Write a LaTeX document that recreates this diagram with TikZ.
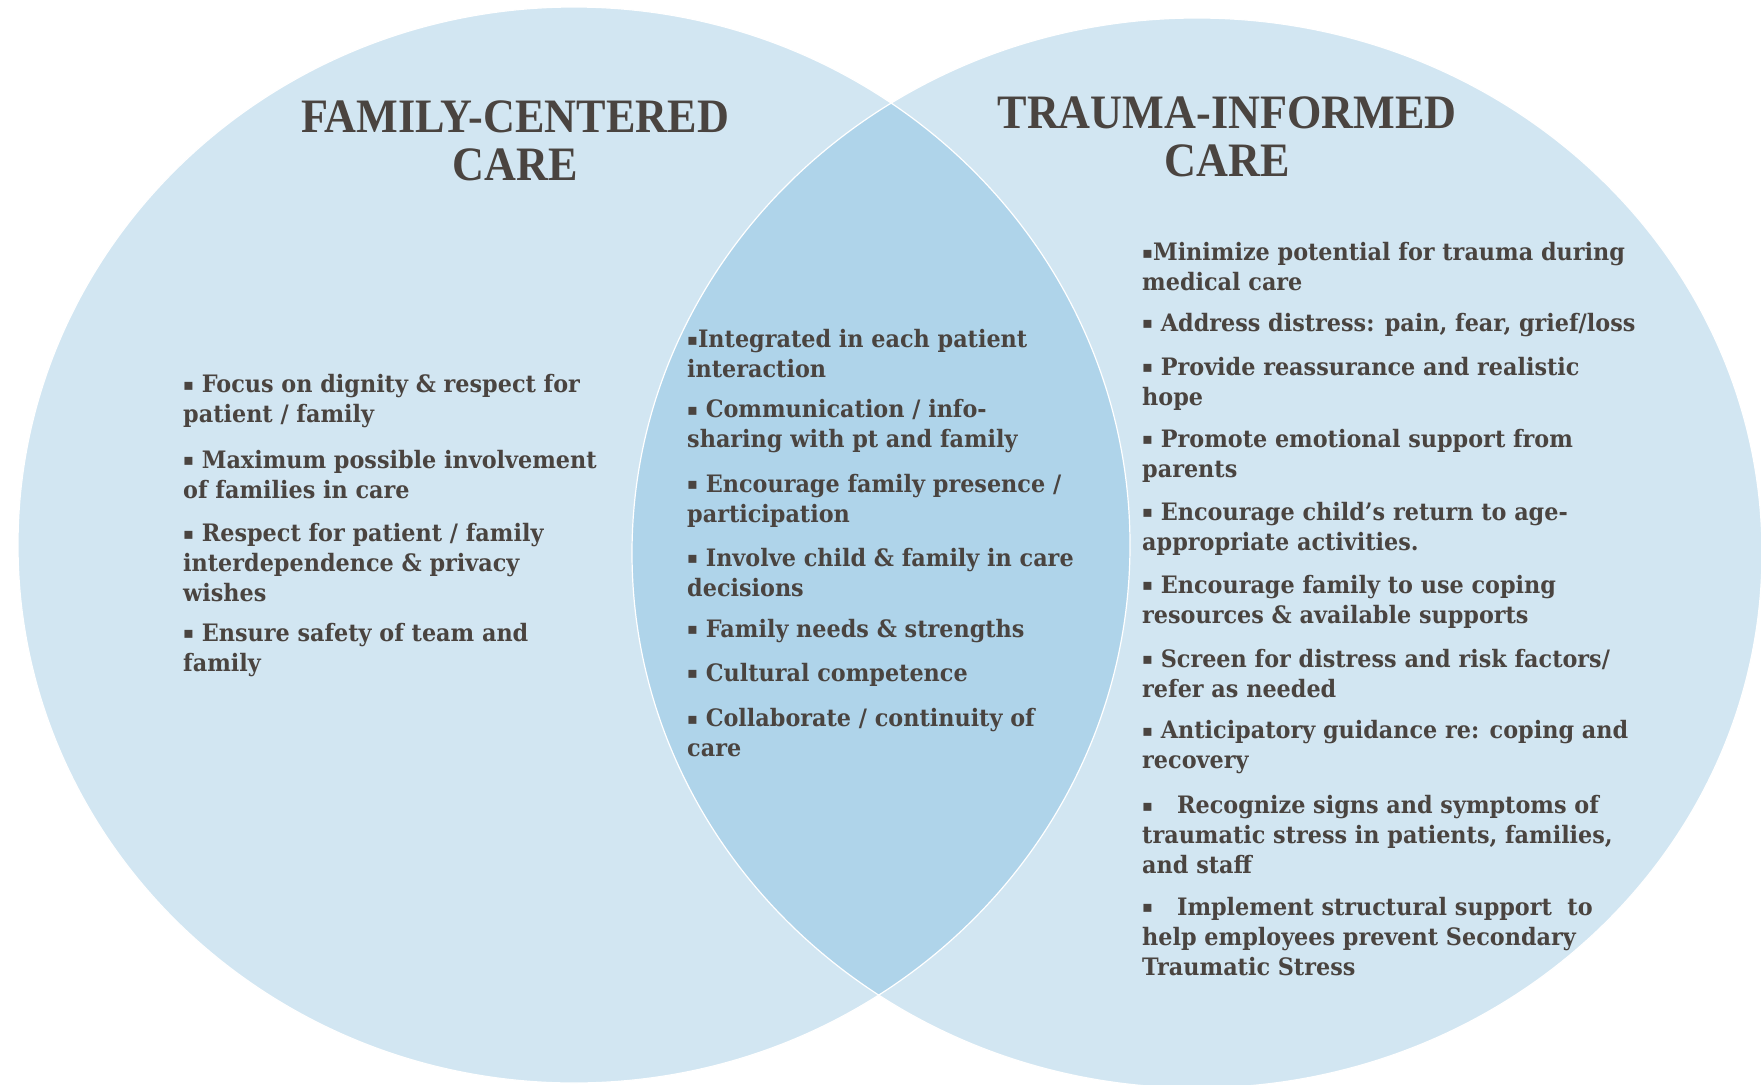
\documentclass[tikz,border=0pt]{standalone}
\usepackage{fontspec}
\usepackage{xcolor}
\usepackage{tikz}
\newfontfamily\titlefont[FakeStretch=0.92]{Liberation Serif}
\newfontfamily\bodyfont[FakeStretch=0.93]{DejaVu Serif}
\newfontfamily\symfont{DejaVu Sans}
\newcommand{\bul}{\raisebox{0.12em}{\symfont\fontsize{16}{16}\selectfont ▪}}
\definecolor{circfill}{HTML}{D2E6F2}
\definecolor{lensfill}{HTML}{AFD4EA}
\definecolor{txt}{HTML}{4A4440}
\begin{document}
\begin{tikzpicture}[x=1pt,y=-1pt,
            title/.style = {align=center, text=txt, inner sep=0,
                        font=\titlefont\bfseries\fontsize{48}{48}\selectfont},
            item/.style = {anchor=west, align=left, text=txt, inner sep=0,
                        font=\bodyfont\bfseries\fontsize{24}{30}\selectfont}]
            \useasboundingbox (0,0) rectangle (1761,1084);
            % Circles
            \fill[circfill] (574,545) ellipse [x radius=556, y radius=538];
            \fill[circfill] (1197,553) ellipse [x radius=565, y radius=535];
            \begin{scope}
                \clip (574,545) ellipse [x radius=556, y radius=538];
                \fill[lensfill] (1197,553) ellipse [x radius=565, y radius=535];
            \end{scope}
            % Circles outline
            \draw[white, line width=1.2pt] (574,545) ellipse [x radius=556, y radius=538];
            \draw[white, line width=1.2pt] (1197,553) ellipse [x radius=565, y radius=535];
            % Titles
            \node[title] (fcc) at (515,141) {FAMILY-CENTERED\\CARE};
            \node[title] (tic) at (1227,136.5) {TRAUMA-INFORMED\\CARE};
            % Family-centered care
            \node[item] (l1) at (183,401.5) {\bul\ Focus on dignity \& respect for\\patient / family};
            \node[item] (l2) at (183,474.5) {\bul\ Maximum possible involvement\\of families in care};
            \node[item] (l3) at (183,563) {\bul\ Respect for patient / family\\interdependence \& privacy\\wishes};
            \node[item] (l4) at (183,650) {\bul\ Ensure safety of team and\\family};
            % Shared
            \node[item] (m1) at (687,354) {\bul Integrated in each patient\\interaction};
            \node[item] (m2) at (687,426.5) {\bul\ Communication / info-\\sharing with pt and family};
            \node[item] (m3) at (687,500.5) {\bul\ Encourage family presence /\\participation};
            \node[item] (m4) at (687,572.5) {\bul\ Involve child \& family in care\\decisions};
            \node[item] (m5) at (687,631) {\bul\ Family needs \& strengths};
            \node[item] (m6) at (687,675) {\bul\ Cultural competence};
            \node[item] (m7) at (687,733) {\bul\ Collaborate / continuity of\\care};
            % Trauma-informed care
            \node[item] (r1) at (1142,267) {\bul Minimize potential for trauma during\\medical care};
            \node[item] (r2) at (1142,325) {\bul\ Address distress: pain, fear, grief/loss};
            \node[item] (r3) at (1142,383.5) {\bul\ Provide reassurance and realistic\\hope};
            \node[item] (r4) at (1142,455.5) {\bul\ Promote emotional support from\\parents};
            \node[item] (r5) at (1142,528.5) {\bul\ Encourage child’s return to age-\\appropriate activities.};
            \node[item] (r6) at (1142,602) {\bul\ Encourage family to use coping\\resources \& available supports};
            \node[item] (r7) at (1142,673.5) {\bul\ Screen for distress and risk factors/\\refer as needed};
            \node[item] (r8) at (1142,747.5) {\bul\ Anticipatory guidance re: coping and\\recovery};
            \node[item] (r9) at (1142,835) {\bul\quad Recognize signs and symptoms of\\traumatic stress in patients, families,\\and staff};
            \node[item] (r10) at (1142,936.5) {\bul\quad Implement structural support\ \ to\\help employees prevent Secondary\\Traumatic Stress};
        \end{tikzpicture}
\end{document}
